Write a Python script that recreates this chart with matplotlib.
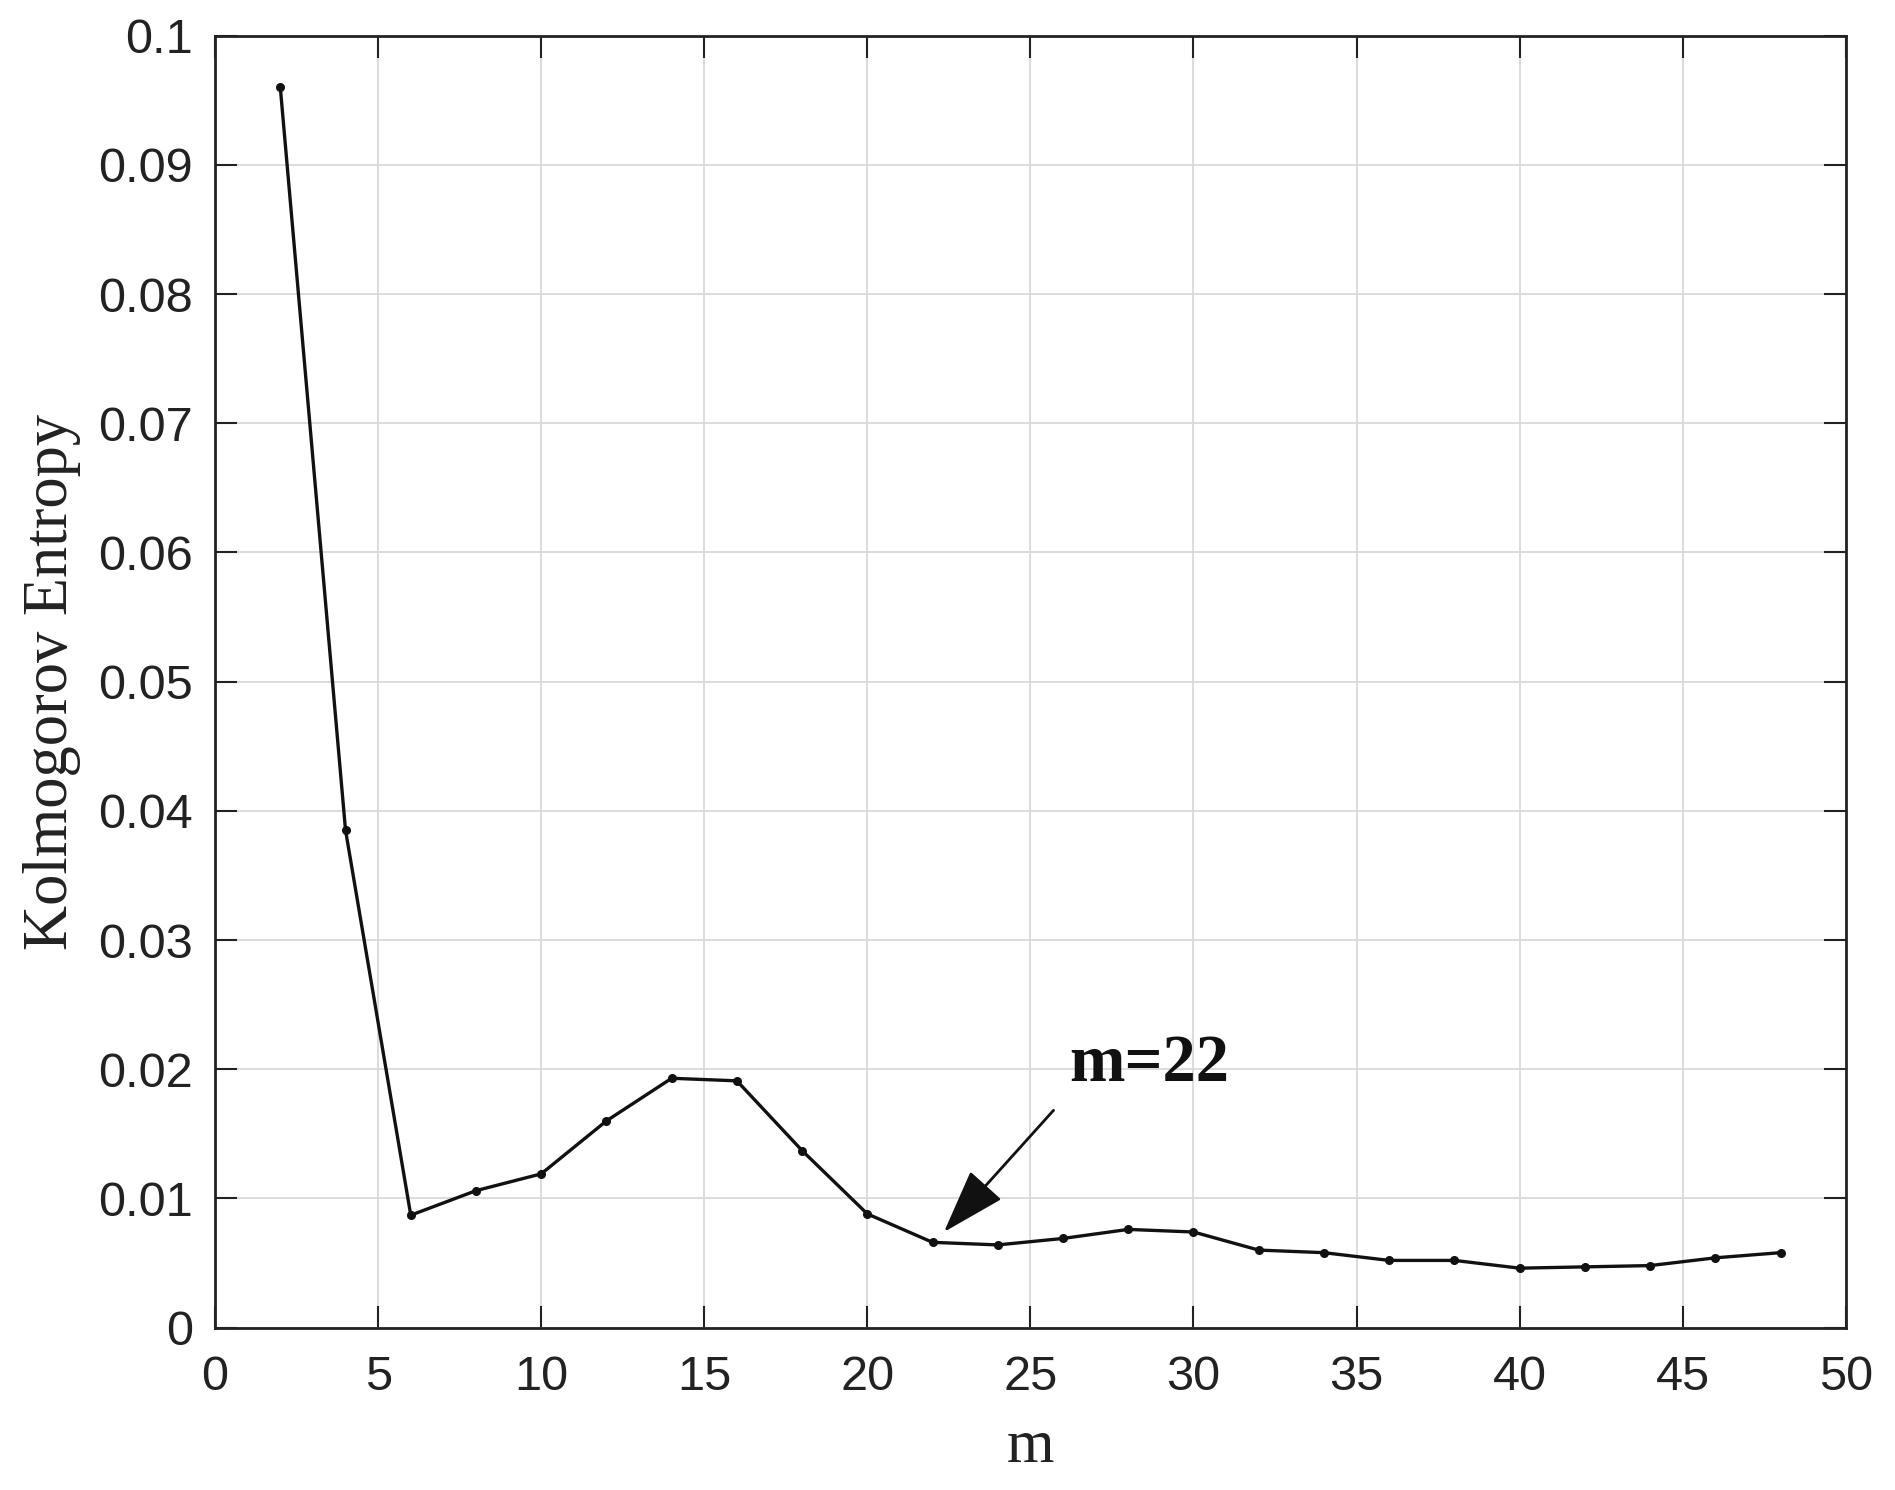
import matplotlib

matplotlib.use("Agg")

import matplotlib.pyplot as plt

m_values = [2, 4, 6, 8, 10, 12, 14, 16, 18, 20, 22, 24,
            26, 28, 30, 32, 34, 36, 38, 40, 42, 44, 46, 48]
entropy = [0.0960, 0.0385, 0.0087, 0.0106, 0.0119, 0.0160, 0.0193, 0.0191,
           0.0137, 0.0088, 0.0066, 0.0064, 0.0069, 0.0076, 0.0074, 0.0060,
           0.0058, 0.0052, 0.0052, 0.0046, 0.0047, 0.0048, 0.0054, 0.0058]
x_ticks = list(range(0, 51, 5))
y_ticks = [0, 0.01, 0.02, 0.03, 0.04, 0.05, 0.06, 0.07, 0.08, 0.09, 0.1]
y_tick_labels = ["0", "0.01", "0.02", "0.03", "0.04", "0.05",
                 "0.06", "0.07", "0.08", "0.09", "0.1"]

SANS = ["Liberation Sans", "DejaVu Sans"]
SERIF = ["Liberation Serif", "DejaVu Serif"]

fig = plt.figure(figsize=(18.95, 14.90), dpi=100)
ax = fig.add_axes([0.1135, 0.109, 0.8605, 0.867])

ax.plot(m_values, entropy, color="#111111", linewidth=2.4,
        marker="o", markersize=5.5)

ax.set_xlim(0, 50)
ax.set_ylim(0, 0.1)
ax.set_xticks(x_ticks)
ax.set_yticks(y_ticks)
ax.set_yticklabels(y_tick_labels)

ax.grid(True, color="#d9d9d9", linewidth=1.3)
ax.set_axisbelow(True)
for side in ax.spines.values():
    side.set_color("#222222")
    side.set_linewidth(2.0)
ax.tick_params(direction="in", length=16, width=1.5, top=True, right=True,
               labelsize=35, colors="#222222")
ax.tick_params(axis="x", pad=20)
ax.tick_params(axis="y", pad=16)
for lab in ax.get_xticklabels() + ax.get_yticklabels():
    lab.set_family(SANS)

ax.set_xlabel("m", fontsize=44, family=SERIF, color="#222222", labelpad=14)
ax.set_ylabel("Kolmogorov Entropy", fontsize=45, family=SERIF,
              color="#222222", labelpad=12)

ax.annotate("m=22", xy=(22.35, 0.0074), xytext=(26.2, 0.0180),
            fontsize=48, fontweight="bold", family=SERIF, color="#111111",
            ha="left", va="bottom",
            arrowprops=dict(arrowstyle="-|>,head_length=0.85,head_width=0.28",
                            color="#111111", linewidth=2.0,
                            shrinkA=0, shrinkB=0,
                            relpos=(-0.1, -0.25)))

fig.savefig("out.png", dpi=100, facecolor="white")
